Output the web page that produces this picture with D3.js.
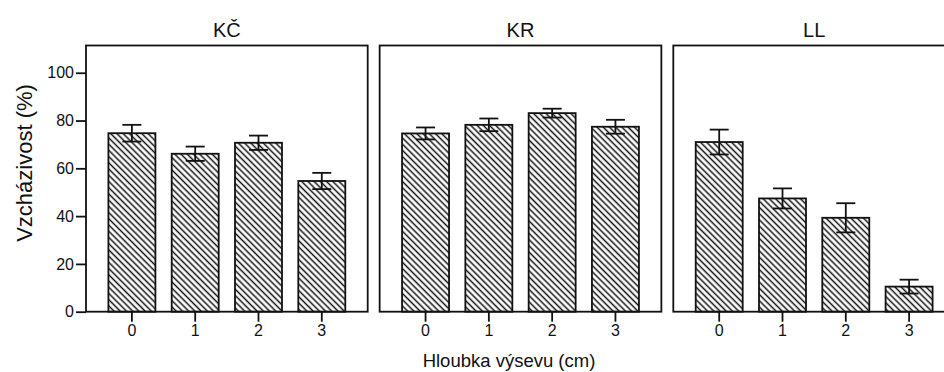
<!DOCTYPE html>
<html>
<head>
<meta charset="utf-8">
<script src="https://cdn.jsdelivr.net/npm/d3@7"></script>
<style>
  html, body { margin: 0; padding: 0; background: #fff; }
  svg { display: block; font-family: "Liberation Sans", Arial, sans-serif; }
  .tick text { font-size: 16px; font-family: "Liberation Sans", Arial, sans-serif; }
</style>
</head>
<body>
<svg id="chart" width="944" height="372"></svg>
<script>
// Sowing depth categories (cm) and sites
const depths = ["0", "1", "2", "3"];
const sites = ["KČ", "KR", "LL"];

// Mean emergence (%) per site, with error (half-length of the error bar)
const meanKC = [74.7, 66.1, 70.7, 54.7];
const errKC  = [3.5, 3.0, 3.0, 3.4];
const meanKR = [74.6, 78.2, 83.1, 77.4];
const errKR  = [2.5, 2.65, 1.85, 2.9];
const meanLL = [71.0, 47.4, 39.3, 10.5];
const errLL  = [5.2, 4.2, 6.1, 2.9];

const yTicks = [0, 20, 40, 60, 80, 100];
const yLabel = "Vzcházivost (%)";
const xLabel = "Hloubka výsevu (cm)";

const panelData = [
  { site: sites[0], mean: meanKC, err: errKC },
  { site: sites[1], mean: meanKR, err: errKR },
  { site: sites[2], mean: meanLL, err: errLL }
];

const svg = d3.select("#chart");
const ink = "#111";

// Layout
const plotTop = 45.5, plotBottom = 311.7;
const panelW = 281.7, panelStep = 293.65, firstLeft = 86;

// Diagonal hatching for the bars
const defs = svg.append("defs");
defs.append("pattern")
  .attr("id", "hatch")
  .attr("patternUnits", "userSpaceOnUse")
  .attr("width", 10)
  .attr("height", 4.4)
  .attr("patternTransform", "rotate(45)")
  .append("line")
  .attr("x1", -1).attr("x2", 11)
  .attr("y1", 2.2).attr("y2", 2.2)
  .attr("stroke", ink)
  .attr("stroke-width", 1.5);

const y = d3.scaleLinear().domain([0, 111.4]).range([plotBottom, plotTop]);
const x = d3.scaleBand().domain(depths).range([0, panelW])
  .paddingInner(0.2575).paddingOuter(0.354);

panelData.forEach((p, i) => {
  const left = firstLeft + i * panelStep;
  const g = svg.append("g").attr("transform", `translate(${left},0)`);

  // Panel frame
  g.append("rect")
    .attr("x", 0).attr("y", plotTop)
    .attr("width", panelW).attr("height", plotBottom - plotTop)
    .attr("fill", "none").attr("stroke", ink).attr("stroke-width", 1.8);

  // Title
  g.append("text")
    .attr("x", panelW / 2).attr("y", 37)
    .attr("text-anchor", "middle")
    .attr("font-size", 20).attr("fill", ink)
    .text(p.site);

  const rows = depths.map((d, k) => ({ d, m: p.mean[k], e: p.err[k] }));

  // Bars
  g.selectAll("rect.bar").data(rows).join("rect")
    .attr("class", "bar")
    .attr("x", r => x(r.d))
    .attr("y", r => y(r.m))
    .attr("width", x.bandwidth())
    .attr("height", r => y(0) - y(r.m))
    .attr("fill", "url(#hatch)")
    .attr("stroke", ink).attr("stroke-width", 1.8);

  // Error bars
  const cap = 9.5;
  const eb = g.selectAll("g.err").data(rows).join("g").attr("class", "err")
    .attr("stroke", ink).attr("stroke-width", 1.8);
  eb.append("line")
    .attr("x1", r => x(r.d) + x.bandwidth() / 2)
    .attr("x2", r => x(r.d) + x.bandwidth() / 2)
    .attr("y1", r => y(r.m + r.e)).attr("y2", r => y(r.m - r.e));
  eb.append("line")
    .attr("x1", r => x(r.d) + x.bandwidth() / 2 - cap)
    .attr("x2", r => x(r.d) + x.bandwidth() / 2 + cap)
    .attr("y1", r => y(r.m + r.e)).attr("y2", r => y(r.m + r.e));
  eb.append("line")
    .attr("x1", r => x(r.d) + x.bandwidth() / 2 - cap)
    .attr("x2", r => x(r.d) + x.bandwidth() / 2 + cap)
    .attr("y1", r => y(r.m - r.e)).attr("y2", r => y(r.m - r.e));

  // X axis
  const xa = g.append("g").attr("transform", `translate(0,${plotBottom})`)
    .call(d3.axisBottom(x).tickSize(10).tickPadding(3));
  xa.select(".domain").remove();
  xa.selectAll("line").attr("stroke", ink).attr("stroke-width", 1.8);
  xa.selectAll("text").attr("fill", ink);

  // Y axis on the first panel only
  if (i === 0) {
    const ya = g.append("g")
      .call(d3.axisLeft(y).tickValues(yTicks).tickSize(10).tickPadding(2));
    ya.select(".domain").remove();
    ya.selectAll("line").attr("stroke", ink).attr("stroke-width", 1.8);
    ya.selectAll("text").attr("fill", ink);
  }
});

// Axis titles
svg.append("text")
  .attr("transform", "translate(32,163) rotate(-90)")
  .attr("text-anchor", "middle")
  .attr("font-size", 22).attr("fill", ink)
  .text(yLabel);

svg.append("text")
  .attr("x", 509).attr("y", 366.5)
  .attr("text-anchor", "middle")
  .attr("font-size", 18.5).attr("fill", ink)
  .text(xLabel);
</script>
</body>
</html>
